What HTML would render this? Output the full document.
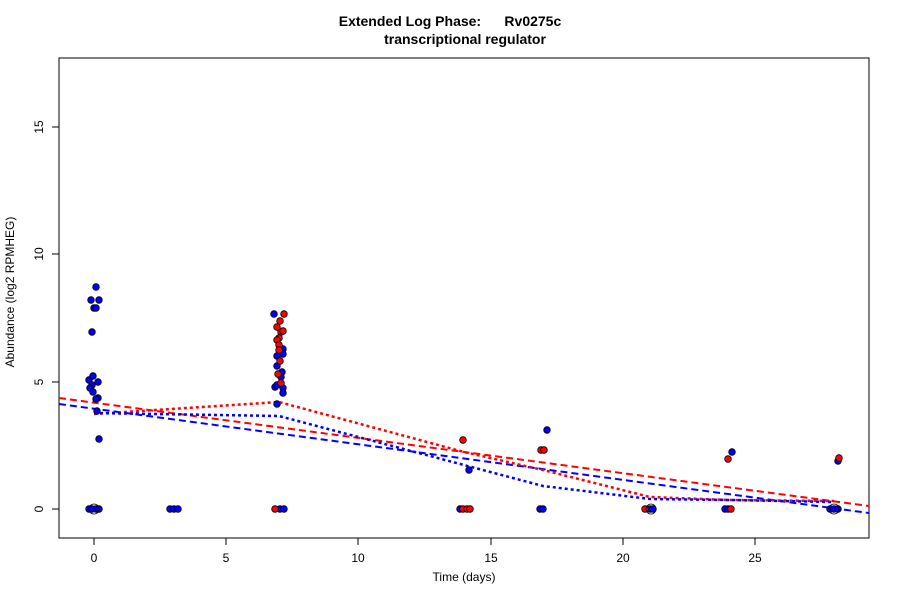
<!DOCTYPE html><html><head><style>body{margin:0;background:#fff}</style></head><body>
<svg width="900" height="600" xmlns="http://www.w3.org/2000/svg" font-family="Liberation Sans, sans-serif">
<rect width="900" height="600" fill="#fff"/>
<text x="450" y="26" text-anchor="middle" font-size="14" font-weight="bold" xml:space="preserve">Extended Log Phase:      Rv0275c</text>
<text x="465" y="44" text-anchor="middle" font-size="14" font-weight="bold">transcriptional regulator</text>
<rect x="59" y="58" width="810" height="480" fill="none" stroke="#000"/>
<g stroke="#000">
<line x1="94" y1="538" x2="755" y2="538"/>
<line x1="94" y1="538" x2="94" y2="545"/><line x1="226" y1="538" x2="226" y2="545"/><line x1="358" y1="538" x2="358" y2="545"/><line x1="491" y1="538" x2="491" y2="545"/><line x1="623" y1="538" x2="623" y2="545"/><line x1="755" y1="538" x2="755" y2="545"/>
<line x1="59" y1="127" x2="59" y2="509"/>
<line x1="59" y1="509" x2="52" y2="509"/><line x1="59" y1="382" x2="52" y2="382"/><line x1="59" y1="254" x2="52" y2="254"/><line x1="59" y1="127" x2="52" y2="127"/>
</g>
<g font-size="12" text-anchor="middle">
<text x="94" y="562">0</text><text x="226" y="562">5</text><text x="358" y="562">10</text><text x="491" y="562">15</text><text x="623" y="562">20</text><text x="755" y="562">25</text>
<text transform="translate(43,509) rotate(-90)">0</text><text transform="translate(43,382) rotate(-90)">5</text><text transform="translate(43,254) rotate(-90)">10</text><text transform="translate(43,127) rotate(-90)">15</text>
<text x="464" y="581">Time  (days)</text>
<text transform="translate(14,292) rotate(-90)">Abundance  (log2 RPMHEG)</text>
</g>
<g fill="none" stroke-width="2">
<line x1="59" y1="398" x2="869" y2="506" stroke="#f00" stroke-dasharray="7,4"/>
<line x1="59" y1="404" x2="869" y2="513" stroke="#00f" stroke-dasharray="7,4"/>
<polyline points="94,414 279,402 464,452 543,470 650,497 729,500 834,501" stroke="#f00" stroke-dasharray="3,3" stroke-width="2.5"/>
<polyline points="94,413 279,416 464,465 543,486 650,499 729,500 834,502" stroke="#00f" stroke-dasharray="3,3" stroke-width="2.5"/>
</g>
<g stroke="#000" stroke-width="0.8">
<g fill="#00f">
<circle cx="96" cy="287" r="3.3"/><circle cx="91" cy="300" r="3.3"/><circle cx="99" cy="300" r="3.3"/><circle cx="94" cy="308" r="3.3"/><circle cx="96" cy="308" r="3.3"/><circle cx="92" cy="332" r="3.3"/>
<circle cx="89" cy="380" r="3.3"/><circle cx="93" cy="376" r="3.3"/><circle cx="98" cy="382" r="3.3"/><circle cx="92" cy="385" r="3.3"/><circle cx="90" cy="388" r="3.3"/><circle cx="93" cy="392" r="3.3"/><circle cx="98" cy="398" r="3.3"/><circle cx="96" cy="399" r="3.3"/><circle cx="97" cy="411" r="3.3"/><circle cx="99" cy="439" r="3.3"/>
<circle cx="274" cy="314" r="3.3"/><circle cx="283" cy="349" r="3.3"/><circle cx="283" cy="354" r="3.3"/><circle cx="277" cy="356" r="3.3"/><circle cx="277" cy="366" r="3.3"/><circle cx="282" cy="372" r="3.3"/><circle cx="281" cy="377" r="3.3"/><circle cx="275" cy="387" r="3.3"/><circle cx="277" cy="385" r="3.3"/><circle cx="283" cy="388" r="3.3"/><circle cx="283" cy="393" r="3.3"/><circle cx="277" cy="404" r="3.3"/>
<circle cx="469" cy="470" r="3.3"/><circle cx="547" cy="430" r="3.3"/><circle cx="732" cy="452" r="3.3"/><circle cx="838" cy="461" r="3.3"/>
</g>
<g fill="#f00">
<circle cx="284" cy="314" r="3.3"/><circle cx="280" cy="321" r="3.3"/><circle cx="277" cy="327" r="3.3"/><circle cx="281" cy="332" r="3.3"/><circle cx="283" cy="331" r="3.3"/><circle cx="279" cy="338" r="3.3"/><circle cx="277" cy="340" r="3.3"/><circle cx="279" cy="345" r="3.3"/><circle cx="279" cy="350" r="3.3"/><circle cx="280" cy="361" r="3.3"/><circle cx="278" cy="374" r="3.3"/><circle cx="281" cy="383" r="3.3"/>
<circle cx="463" cy="440" r="3.3"/><circle cx="541" cy="450" r="3.3"/><circle cx="544" cy="450" r="3.3"/><circle cx="728" cy="459" r="3.3"/><circle cx="839" cy="458" r="3.3"/>
</g>
<g fill="#00f">
<circle cx="89" cy="509" r="3.3"/><circle cx="92" cy="509" r="3.3"/><circle cx="96" cy="509" r="3.3"/><circle cx="99" cy="509" r="3.3"/>
<circle cx="170" cy="509" r="3.3"/><circle cx="174" cy="509" r="3.3"/><circle cx="178" cy="509" r="3.3"/>
<circle cx="280" cy="509" r="3.3"/><circle cx="284" cy="509" r="3.3"/>
<circle cx="460" cy="509" r="3.3"/><circle cx="540" cy="509" r="3.3"/><circle cx="543" cy="509" r="3.3"/>
<circle cx="650" cy="509" r="3.3"/><circle cx="653" cy="509" r="3.3"/>
<circle cx="725" cy="509" r="3.3"/><circle cx="728" cy="509" r="3.3"/>
<circle cx="830" cy="509" r="3.3"/><circle cx="834" cy="509" r="3.3"/><circle cx="838" cy="509" r="3.3"/>
</g>
<g fill="#f00">
<circle cx="275" cy="509" r="3.3"/><circle cx="463" cy="509" r="3.3"/><circle cx="467" cy="509" r="3.3"/><circle cx="470" cy="509" r="3.3"/><circle cx="645" cy="509" r="3.3"/><circle cx="731" cy="509" r="3.3"/>
</g>
<g fill="none"><circle cx="94" cy="509" r="5"/><circle cx="651" cy="509" r="5"/><circle cx="834" cy="509" r="5"/></g>
</g>
</svg>
</body></html>
